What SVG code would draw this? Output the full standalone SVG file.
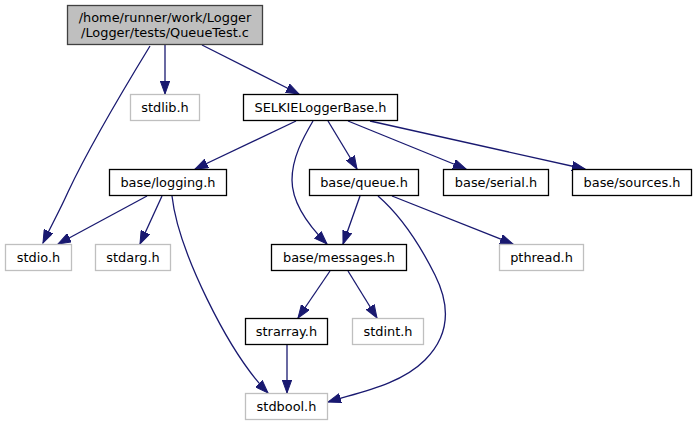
<svg xmlns="http://www.w3.org/2000/svg" width="697" height="425" viewBox="0 0 697 425">
<defs>
<style>
.n rect{fill:#ffffff;stroke:#000000;stroke-width:1.3}
.n.g rect{stroke:#bfbfbf}
.n.r rect{fill:#bfbfbf;stroke:#404040}
.n text{font-family:"DejaVu Sans","Liberation Sans",sans-serif;font-size:12.9px;fill:#000000;text-anchor:middle}
.e path{fill:none;stroke:#191970;stroke-width:1.3;marker-end:url(#arr)}
</style>
<marker id="arr" markerUnits="userSpaceOnUse" viewBox="0 0 14 10" markerWidth="14" markerHeight="10" refX="13" refY="5" orient="auto">
<path d="M0,0.3 L13,5 L0,9.7 Z" fill="#191970" stroke="#191970" stroke-width="1"/>
</marker>
</defs>
<rect width="697" height="425" fill="#ffffff"/>
<g id="edges" class="e">
<path d="M150,46 C128,82 90,145 68,192 C60,210 50,228 43,243"/>
<path d="M165,45 L165,94"/>
<path d="M202,45 L299,94"/>
<path d="M296,121 L195,169"/>
<path d="M313,121 C303,138 292,158 292,180 C292,205 311,228 327,244"/>
<path d="M328,121 L357,169"/>
<path d="M348,121 L466,169"/>
<path d="M370,121 L585,169"/>
<path d="M147,196 L58,244"/>
<path d="M162,196 L140,244"/>
<path d="M172,196 C178,250 228,352 268,393"/>
<path d="M360,196 L343,244"/>
<path d="M392,196 L513,244"/>
<path d="M378,196 C400,215 420,245 435,275 C450,305 450,335 425,360 C400,385 360,392 328,402"/>
<path d="M330,271 L298,318"/>
<path d="M348,271 L377,318"/>
<path d="M287,345 L287,393"/>
</g>
<g id="root" class="n r"><rect x="67.5" y="5.5" width="195" height="39"/><text x="165" y="22">/home/runner/work/Logger</text><text x="165" y="37">/Logger/tests/QueueTest.c</text></g>
<g id="stdlib" class="n g"><rect x="130.5" y="94.5" width="69" height="26"/><text x="165" y="111.5">stdlib.h</text></g>
<g id="selkie" class="n"><rect x="243.5" y="94.5" width="154" height="26"/><text x="320.5" y="111.5">SELKIELoggerBase.h</text></g>
<g id="logging" class="n"><rect x="109.5" y="169.5" width="117" height="26"/><text x="168" y="186.5">base/logging.h</text></g>
<g id="queue" class="n"><rect x="309.5" y="169.5" width="109" height="26"/><text x="364" y="186.5">base/queue.h</text></g>
<g id="serial" class="n"><rect x="443.5" y="169.5" width="105" height="26"/><text x="496" y="186.5">base/serial.h</text></g>
<g id="sources" class="n"><rect x="572.5" y="169.5" width="119" height="26"/><text x="632" y="186.5">base/sources.h</text></g>
<g id="stdio" class="n g"><rect x="5.5" y="244.5" width="66" height="26"/><text x="38.5" y="261.5">stdio.h</text></g>
<g id="stdarg" class="n g"><rect x="95.5" y="244.5" width="75" height="26"/><text x="133" y="261.5">stdarg.h</text></g>
<g id="messages" class="n"><rect x="271.5" y="244.5" width="135" height="26"/><text x="339" y="261.5">base/messages.h</text></g>
<g id="pthread" class="n g"><rect x="499.5" y="244.5" width="84" height="26"/><text x="541.5" y="261.5">pthread.h</text></g>
<g id="strarray" class="n"><rect x="245.5" y="318.5" width="82" height="26"/><text x="286.5" y="335.5">strarray.h</text></g>
<g id="stdint" class="n g"><rect x="352.5" y="318.5" width="71" height="26"/><text x="388" y="335.5">stdint.h</text></g>
<g id="stdbool" class="n g"><rect x="245.5" y="393.5" width="82" height="26"/><text x="286.5" y="410.5">stdbool.h</text></g>
</svg>
